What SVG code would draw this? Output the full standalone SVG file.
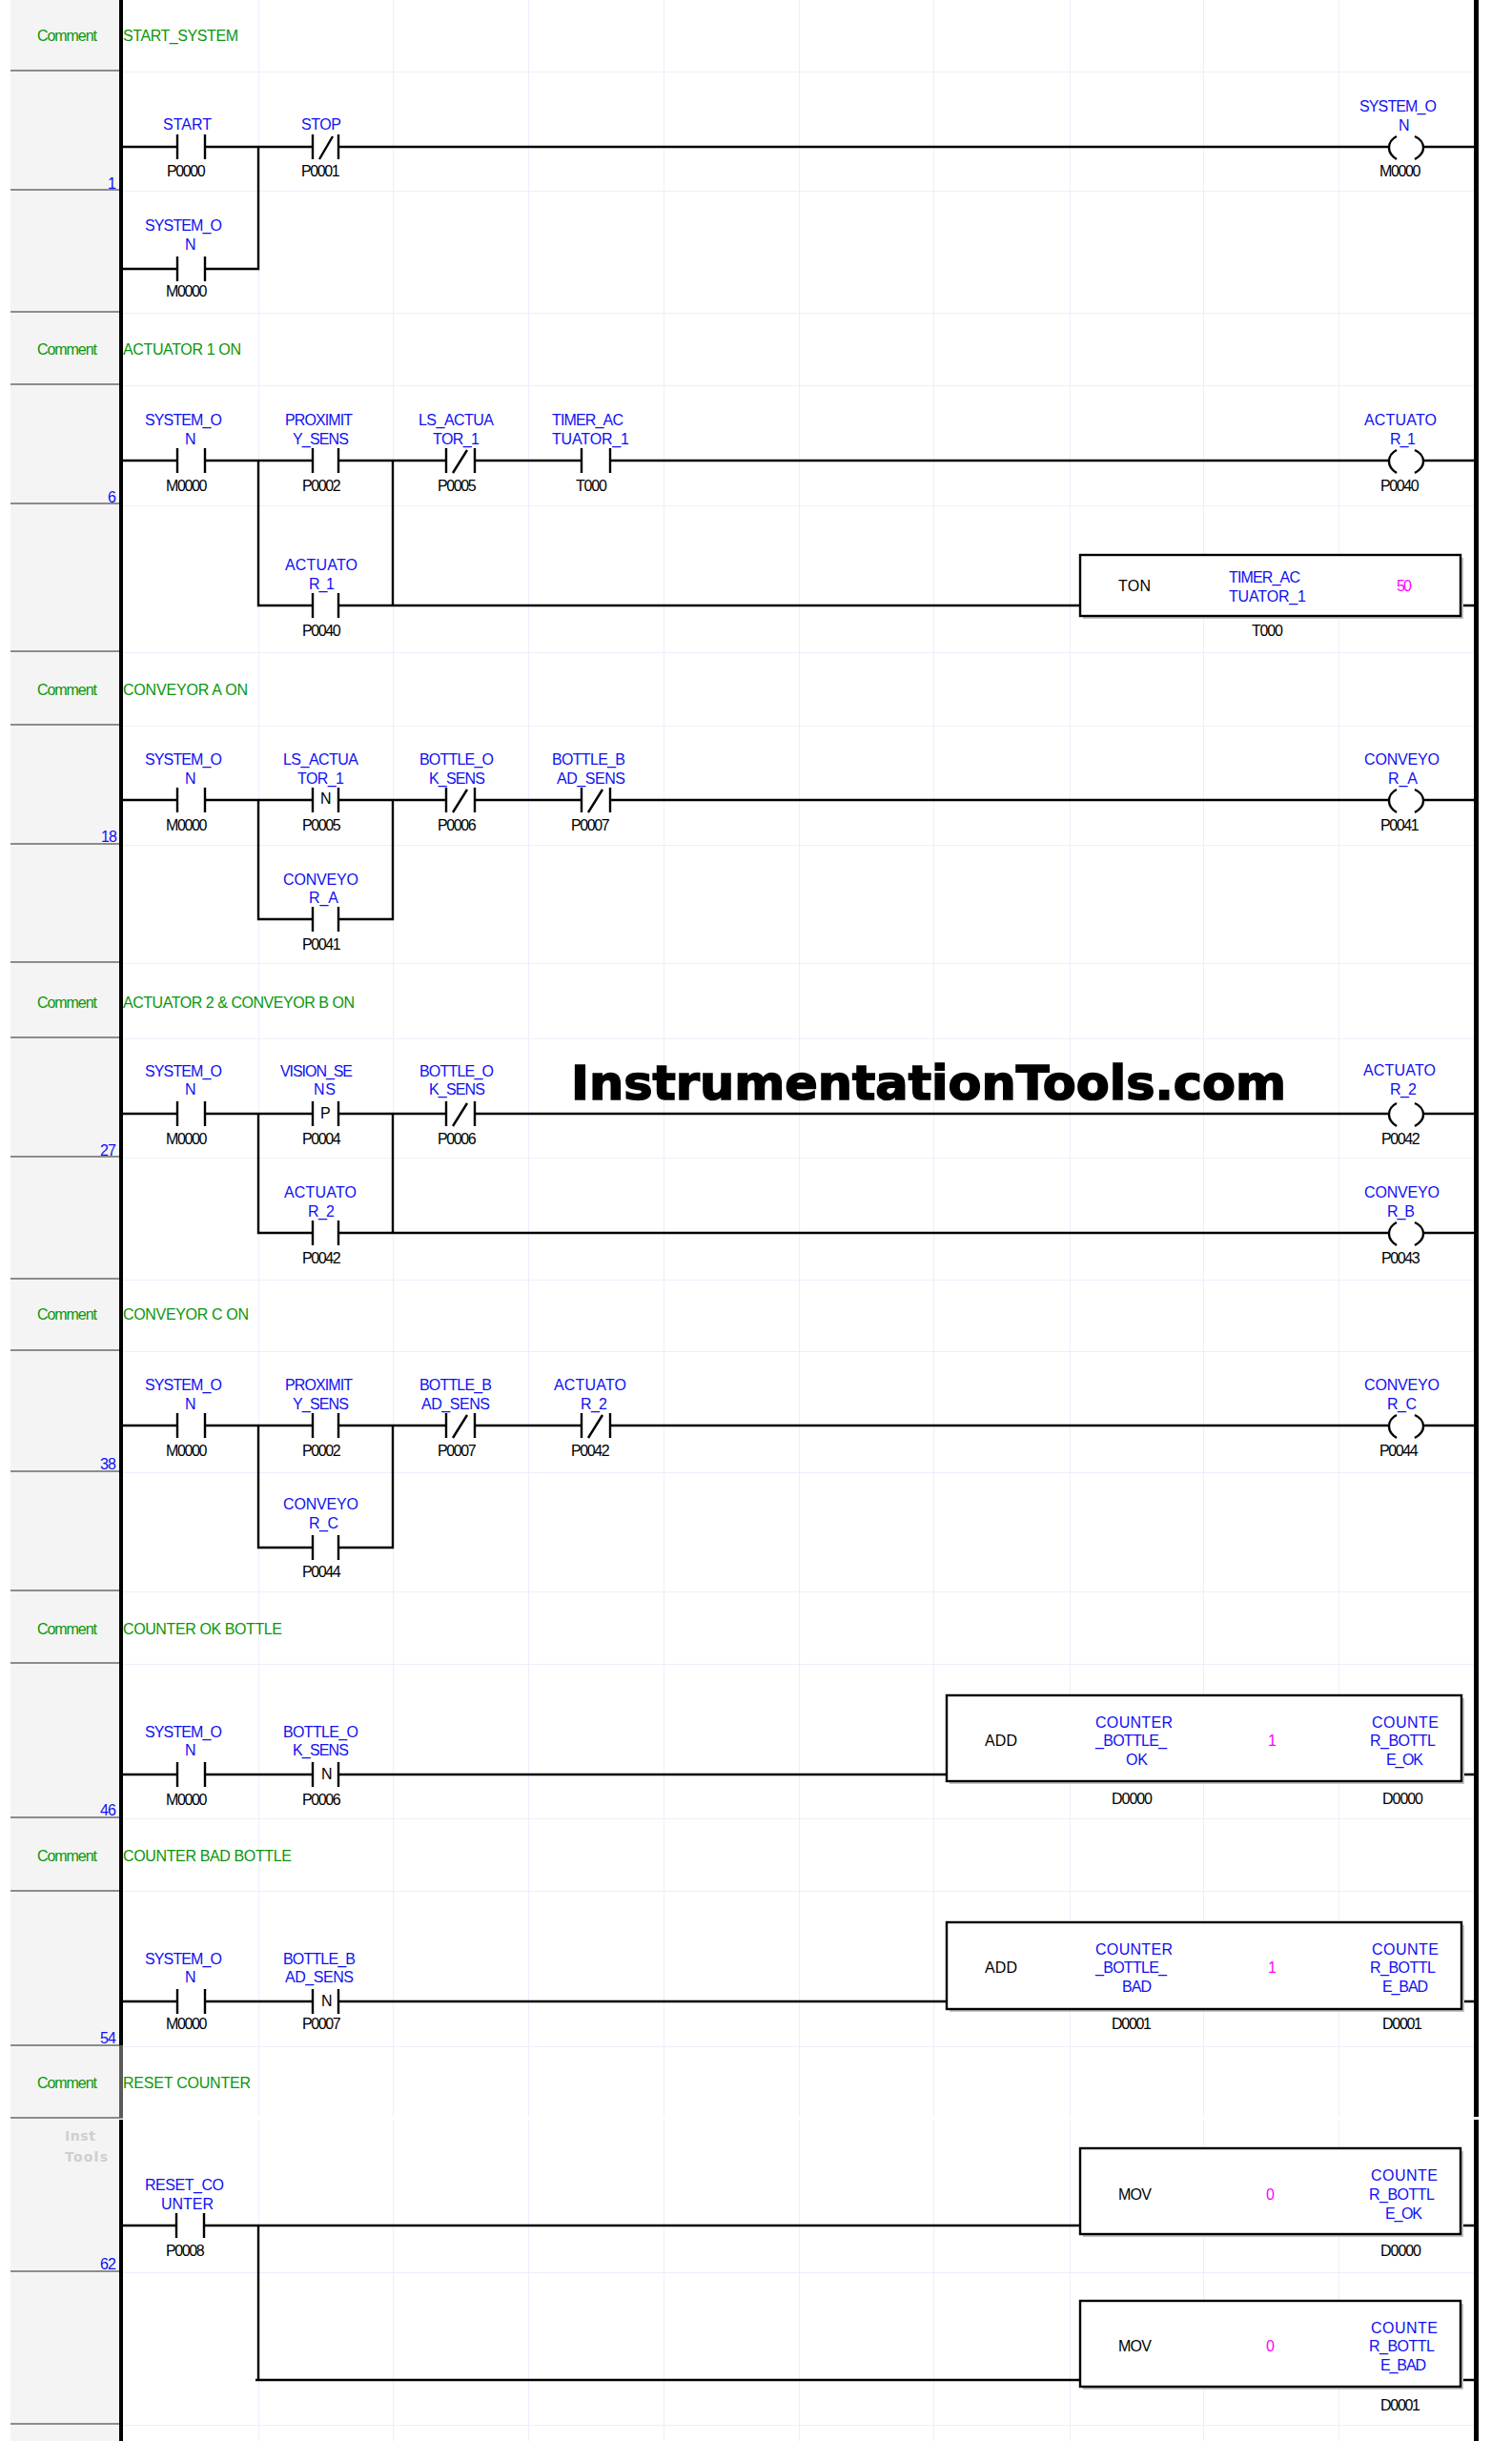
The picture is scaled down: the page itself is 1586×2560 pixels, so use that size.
<svg xmlns="http://www.w3.org/2000/svg" width="1586" height="2560" viewBox="0 0 1586 2560">
<style>
text{font-family:"Liberation Sans",Arial,sans-serif;font-size:16px;white-space:pre}
.b{fill:#1010f4}.k{fill:#000}.a{fill:#000;letter-spacing:-1.4px}.g{fill:#0a960a}.m{fill:#ff00ff}
.r{fill:#1010f4;letter-spacing:-1px}
.w{fill:none;stroke:#000;stroke-width:2.4}
.gl{stroke:#eeeefb;stroke-width:1;fill:none}
.sep{stroke:#8c8c8c;stroke-width:2;fill:none}
.box{fill:#fff;stroke:#000;stroke-width:2.4}
.sh{fill:#c4c4c4}
.wm{fill:#cfcfcf;font-family:"DejaVu Sans",sans-serif;font-weight:700;font-size:14px}
</style>
<defs>
<path id="no" class="w" d="M0 -13V13M29 -13V13"/>
<path id="n2" class="w" d="M0 -13V13M27 -13V13"/>
<path id="n3" class="w" d="M0 -13V13M30 -13V13"/>
<path id="c2" class="w" d="M0 -13V13M27 -13V13M7 13L21 -11"/>
<path id="c3" class="w" d="M0 -13V13M30 -13V13M7 13L22 -11"/>
<path id="coil" class="w" d="M8 -11Q0 -7 0 1Q0 8 8 13M27 -11Q36 -7 36 1Q36 8 27 13"/>
</defs>
<rect width="1586" height="2560" fill="#fff"/>
<rect x="11" y="0" width="114" height="2560" fill="#f4f4f4"/>
<g id="grid">
<path class="gl" d="M271.500 0V2560M412.500 0V2560M554.500 0V2560M696.500 0V2560M838.500 0V2560M979.500 0V2560M1122.500 0V2560M1262.500 0V2560M1404.500 0V2560"/>
<path class="gl" d="M129 75.500H1546M129 200.500H1546M129 328.500H1546M129 404.500H1546M129 530.500H1546M129 684.500H1546M129 761.500H1546M129 886.500H1546M129 1010.500H1546M129 1089.500H1546M129 1214.500H1546M129 1342.500H1546M129 1417.500H1546M129 1544.500H1546M129 1669.500H1546M129 1745.500H1546M129 1907.500H1546M129 1983.500H1546M129 2146.500H1546M129 2383.500H1546M129 2543.500H1546"/>
<rect x="129" y="2220" width="1417" height="3" fill="#fff"/>
</g>
<g id="panel">
<path class="sep" d="M11 74H125M11 199H125M11 327H125M11 403H125M11 528H125M11 683H125M11 760H125M11 885H125M11 1009H125M11 1088H125M11 1213H125M11 1341H125M11 1416H125M11 1543H125M11 1668H125M11 1744H125M11 1906H125M11 1983H125M11 2145H125M11 2221H129M11 2382H125M11 2542H125"/>
<text class="g" x="39" y="43" textLength="63">Comment</text>
<text class="g" x="39" y="372" textLength="63">Comment</text>
<text class="g" x="39" y="729" textLength="63">Comment</text>
<text class="g" x="39" y="1057" textLength="63">Comment</text>
<text class="g" x="39" y="1384" textLength="63">Comment</text>
<text class="g" x="39" y="1714" textLength="63">Comment</text>
<text class="g" x="39" y="1952" textLength="63">Comment</text>
<text class="g" x="39" y="2190" textLength="63">Comment</text>
<text class="r" x="113" y="198">1</text>
<text class="r" x="113" y="527">6</text>
<text class="r" x="106" y="883">18</text>
<text class="r" x="105" y="1212">27</text>
<text class="r" x="105" y="1541">38</text>
<text class="r" x="105" y="1904">46</text>
<text class="r" x="105" y="2143">54</text>
<text class="r" x="105" y="2380">62</text>
<text class="wm" x="68" y="2245" textLength="32">Inst</text>
<text class="wm" x="68" y="2267" textLength="45">Tools</text>
</g>
<g id="rails">
<rect x="125" y="0" width="4" height="2145" fill="#000"/>
<rect x="125" y="2145" width="4" height="76" fill="#5a5a5a"/>
<rect x="125" y="2223" width="4" height="337" fill="#000"/>
<rect x="1546" y="0" width="5" height="2220" fill="#000"/>
<rect x="1546" y="2223" width="5" height="337" fill="#000"/>
</g>
<g id="comments">
<text class="g" x="129" y="43" textLength="121">START_SYSTEM</text>
<text class="g" x="129" y="372" textLength="124">ACTUATOR 1 ON</text>
<text class="g" x="129" y="729" textLength="131">CONVEYOR A ON</text>
<text class="g" x="129" y="1057" textLength="243">ACTUATOR 2 &amp; CONVEYOR B ON</text>
<text class="g" x="129" y="1384" textLength="132">CONVEYOR C ON</text>
<text class="g" x="129" y="1714" textLength="167">COUNTER OK BOTTLE</text>
<text class="g" x="129" y="1952" textLength="177">COUNTER BAD BOTTLE</text>
<text class="g" x="129" y="2190" textLength="134">RESET COUNTER</text>
</g>
<g id="connectors" class="w">
<path d="M127 154H186M215 154H328M355 154H1457M1493 154H1548M127 282H186M215 282H271V154"/>
<path d="M127 483H186M215 483H328M355 483H468M498 483H610M640 483H1457M1493 483H1548M271 483V635H328M355 635H1133M412 483V635M1532 635H1548"/>
<path d="M127 839H186M215 839H328M355 839H468M498 839H610M640 839H1457M1493 839H1548M271 839V964H328M355 964H412V839"/>
<path d="M127 1168H186M215 1168H328M355 1168H468M498 1168H1457M1493 1168H1548M271 1168V1293H328M355 1293H1457M1493 1293H1548M412 1168V1293"/>
<path d="M127 1495H186M215 1495H328M355 1495H468M498 1495H610M640 1495H1457M1493 1495H1548M271 1495V1623H328M355 1623H412V1495"/>
<path d="M127 1861H186M215 1861H328M355 1861H993M1533 1861H1548"/>
<path d="M127 2099H186M215 2099H328M355 2099H993M1533 2099H1548"/>
<path d="M127 2334H185M214 2334H1133M1532 2334H1548M271 2334V2496M268 2496H1133M1532 2496H1548"/>
</g>
<g id="watermark"><text x="599" y="1153" textLength="750" lengthAdjust="spacingAndGlyphs" style="font-family:'DejaVu Sans',sans-serif;font-weight:700;font-size:50px;stroke:#000;stroke-width:1.6">InstrumentationTools.com</text></g>

<g id="r1-start"><use href="#no" x="186" y="154"/><text class="b" x="171" y="136" textLength="51">START</text><text class="a" x="175" y="185">P0000</text></g>
<g id="r1-stop"><use href="#c2" x="328" y="154"/><text class="b" x="316" y="136" textLength="42">STOP</text><text class="a" x="316" y="185">P0001</text></g>
<g id="r1-coil"><use href="#coil" x="1457" y="154"/><text class="b" x="1426" y="117" textLength="81">SYSTEM_O</text><text class="b" x="1467" y="137" textLength="11">N</text><text class="a" x="1447" y="185">M0000</text></g>
<g id="r1-hold"><use href="#no" x="186" y="282"/><text class="b" x="152" y="242" textLength="81">SYSTEM_O</text><text class="b" x="194" y="262" textLength="11">N</text><text class="a" x="174" y="311">M0000</text></g>

<g id="r6-sys"><use href="#no" x="186" y="483"/><text class="b" x="152" y="446" textLength="81">SYSTEM_O</text><text class="b" x="194" y="466" textLength="11">N</text><text class="a" x="174" y="515">M0000</text></g>
<g id="r6-prox"><use href="#n2" x="328" y="483"/><text class="b" x="299" y="446" textLength="71">PROXIMIT</text><text class="b" x="307" y="466" textLength="59">Y_SENS</text><text class="a" x="317" y="515">P0002</text></g>
<g id="r6-ls"><use href="#c3" x="468" y="483"/><text class="b" x="439" y="446" textLength="79">LS_ACTUA</text><text class="b" x="454" y="466" textLength="49">TOR_1</text><text class="a" x="459" y="515">P0005</text></g>
<g id="r6-timer"><use href="#n3" x="610" y="483"/><text class="b" x="579" y="446" textLength="75">TIMER_AC</text><text class="b" x="579" y="466" textLength="81">TUATOR_1</text><text class="k" x="604" y="515" textLength="33">T000</text></g>
<g id="r6-coil"><use href="#coil" x="1457" y="483"/><text class="b" x="1431" y="446" textLength="76">ACTUATO</text><text class="b" x="1458" y="466" textLength="27">R_1</text><text class="a" x="1448" y="515">P0040</text></g>
<g id="r6-act"><use href="#n2" x="328" y="635"/><text class="b" x="299" y="598" textLength="76">ACTUATO</text><text class="b" x="324" y="618" textLength="27">R_1</text><text class="a" x="317" y="667">P0040</text></g>
<g id="r6-ton"><rect class="sh" x="1136" y="585" width="399" height="64"/><rect x="1133" y="582" width="399" height="64" class="box"/><text class="k" x="1173" y="620" textLength="34">TON</text><text class="b" x="1289" y="611" textLength="75">TIMER_AC</text><text class="b" x="1289" y="631" textLength="81">TUATOR_1</text><text class="m" x="1465" y="620" textLength="16">50</text><text class="k" x="1313" y="667" textLength="33">T000</text></g>

<g id="r18-sys"><use href="#no" x="186" y="839"/><text class="b" x="152" y="802" textLength="81">SYSTEM_O</text><text class="b" x="194" y="822" textLength="11">N</text><text class="a" x="174" y="871">M0000</text></g>
<g id="r18-ls"><use href="#n2" x="328" y="839"/><text class="k" x="336" y="843">N</text><text class="b" x="297" y="802" textLength="79">LS_ACTUA</text><text class="b" x="312" y="822" textLength="49">TOR_1</text><text class="a" x="317" y="871">P0005</text></g>
<g id="r18-ok"><use href="#c3" x="468" y="839"/><text class="b" x="440" y="802" textLength="78">BOTTLE_O</text><text class="b" x="450" y="822" textLength="59">K_SENS</text><text class="a" x="459" y="871">P0006</text></g>
<g id="r18-bad"><use href="#c3" x="610" y="839"/><text class="b" x="579" y="802" textLength="77">BOTTLE_B</text><text class="b" x="584" y="822" textLength="72">AD_SENS</text><text class="a" x="599" y="871">P0007</text></g>
<g id="r18-coil"><use href="#coil" x="1457" y="839"/><text class="b" x="1431" y="802" textLength="79">CONVEYO</text><text class="b" x="1456" y="822" textLength="31">R_A</text><text class="a" x="1448" y="871">P0041</text></g>
<g id="r18-conv"><use href="#n2" x="328" y="964"/><text class="b" x="297" y="928" textLength="79">CONVEYO</text><text class="b" x="324" y="947" textLength="31">R_A</text><text class="a" x="317" y="996">P0041</text></g>

<g id="r27-sys"><use href="#no" x="186" y="1168"/><text class="b" x="152" y="1129" textLength="81">SYSTEM_O</text><text class="b" x="194" y="1148" textLength="11">N</text><text class="a" x="174" y="1200">M0000</text></g>
<g id="r27-vis"><use href="#n2" x="328" y="1168"/><text class="k" x="336" y="1173">P</text><text class="b" x="294" y="1129" textLength="76">VISION_SE</text><text class="b" x="329" y="1148" textLength="23">NS</text><text class="a" x="317" y="1200">P0004</text></g>
<g id="r27-ok"><use href="#c3" x="468" y="1168"/><text class="b" x="440" y="1129" textLength="78">BOTTLE_O</text><text class="b" x="450" y="1148" textLength="59">K_SENS</text><text class="a" x="459" y="1200">P0006</text></g>
<g id="r27-coil"><use href="#coil" x="1457" y="1168"/><text class="b" x="1430" y="1128" textLength="76">ACTUATO</text><text class="b" x="1458" y="1148" textLength="28">R_2</text><text class="a" x="1449" y="1200">P0042</text></g>
<g id="r27-act"><use href="#n2" x="328" y="1293"/><text class="b" x="298" y="1256" textLength="76">ACTUATO</text><text class="b" x="323" y="1276" textLength="28">R_2</text><text class="a" x="317" y="1325">P0042</text></g>
<g id="r27-coil2"><use href="#coil" x="1457" y="1293"/><text class="b" x="1431" y="1256" textLength="79">CONVEYO</text><text class="b" x="1455" y="1276" textLength="29">R_B</text><text class="a" x="1449" y="1325">P0043</text></g>

<g id="r38-sys"><use href="#no" x="186" y="1495"/><text class="b" x="152" y="1458" textLength="81">SYSTEM_O</text><text class="b" x="194" y="1478" textLength="11">N</text><text class="a" x="174" y="1527">M0000</text></g>
<g id="r38-prox"><use href="#n2" x="328" y="1495"/><text class="b" x="299" y="1458" textLength="71">PROXIMIT</text><text class="b" x="307" y="1478" textLength="59">Y_SENS</text><text class="a" x="317" y="1527">P0002</text></g>
<g id="r38-bad"><use href="#c3" x="468" y="1495"/><text class="b" x="440" y="1458" textLength="76">BOTTLE_B</text><text class="b" x="442" y="1478" textLength="72">AD_SENS</text><text class="a" x="459" y="1527">P0007</text></g>
<g id="r38-act"><use href="#c3" x="610" y="1495"/><text class="b" x="581" y="1458" textLength="76">ACTUATO</text><text class="b" x="609" y="1478" textLength="28">R_2</text><text class="a" x="599" y="1527">P0042</text></g>
<g id="r38-coil"><use href="#coil" x="1457" y="1495"/><text class="b" x="1431" y="1458" textLength="79">CONVEYO</text><text class="b" x="1455" y="1478" textLength="31">R_C</text><text class="a" x="1447" y="1527">P0044</text></g>
<g id="r38-conv"><use href="#n2" x="328" y="1623"/><text class="b" x="297" y="1583" textLength="79">CONVEYO</text><text class="b" x="324" y="1603" textLength="31">R_C</text><text class="a" x="317" y="1654">P0044</text></g>

<g id="r46-sys"><use href="#no" x="186" y="1861"/><text class="b" x="152" y="1822" textLength="81">SYSTEM_O</text><text class="b" x="194" y="1841" textLength="11">N</text><text class="a" x="174" y="1893">M0000</text></g>
<g id="r46-ok"><use href="#n2" x="328" y="1861"/><text class="k" x="337" y="1866">N</text><text class="b" x="297" y="1822" textLength="79">BOTTLE_O</text><text class="b" x="307" y="1841" textLength="59">K_SENS</text><text class="a" x="317" y="1893">P0006</text></g>
<g id="r46-add"><rect class="sh" x="996" y="1781" width="540" height="90"/><rect x="993" y="1778" width="540" height="90" class="box"/><text class="k" x="1033" y="1831" textLength="34">ADD</text><text class="b" x="1149" y="1812" textLength="81">COUNTER</text><text class="b" x="1149" y="1831" textLength="75">_BOTTLE_</text><text class="b" x="1181" y="1851" textLength="23">OK</text><text class="m" x="1330" y="1831">1</text><text class="b" x="1439" y="1812" textLength="70">COUNTE</text><text class="b" x="1437" y="1831" textLength="69">R_BOTTL</text><text class="b" x="1454" y="1851" textLength="39">E_OK</text><text class="k" x="1166" y="1892" textLength="43">D0000</text><text class="k" x="1450" y="1892" textLength="43">D0000</text></g>

<g id="r54-sys"><use href="#no" x="186" y="2099"/><text class="b" x="152" y="2060" textLength="81">SYSTEM_O</text><text class="b" x="194" y="2079" textLength="11">N</text><text class="a" x="174" y="2128">M0000</text></g>
<g id="r54-bad"><use href="#n2" x="328" y="2099"/><text class="k" x="337" y="2104">N</text><text class="b" x="297" y="2060" textLength="76">BOTTLE_B</text><text class="b" x="299" y="2079" textLength="72">AD_SENS</text><text class="a" x="317" y="2128">P0007</text></g>
<g id="r54-add"><rect class="sh" x="996" y="2019" width="540" height="91"/><rect x="993" y="2016" width="540" height="91" class="box"/><text class="k" x="1033" y="2069" textLength="34">ADD</text><text class="b" x="1149" y="2050" textLength="81">COUNTER</text><text class="b" x="1149" y="2069" textLength="75">_BOTTLE_</text><text class="b" x="1177" y="2089" textLength="31">BAD</text><text class="m" x="1330" y="2069">1</text><text class="b" x="1439" y="2050" textLength="70">COUNTE</text><text class="b" x="1437" y="2069" textLength="69">R_BOTTL</text><text class="b" x="1450" y="2089" textLength="48">E_BAD</text><text class="k" x="1166" y="2128" textLength="42">D0001</text><text class="k" x="1450" y="2128" textLength="42">D0001</text></g>

<g id="r62-reset"><use href="#no" x="185" y="2334"/><text class="b" x="152" y="2297" textLength="83">RESET_CO</text><text class="b" x="169" y="2317" textLength="55">UNTER</text><text class="a" x="174" y="2366">P0008</text></g>
<g id="r62-mov1"><rect class="sh" x="1136" y="2256" width="399" height="90"/><rect x="1133" y="2253" width="399" height="90" class="box"/><text class="k" x="1173" y="2307" textLength="35">MOV</text><text class="m" x="1328" y="2307">0</text><text class="b" x="1438" y="2287" textLength="70">COUNTE</text><text class="b" x="1436" y="2307" textLength="69">R_BOTTL</text><text class="b" x="1453" y="2327" textLength="39">E_OK</text><text class="k" x="1448" y="2366" textLength="43">D0000</text></g>
<g id="r62-mov2"><rect class="sh" x="1136" y="2416" width="399" height="90"/><rect x="1133" y="2413" width="399" height="90" class="box"/><text class="k" x="1173" y="2466" textLength="35">MOV</text><text class="m" x="1328" y="2466">0</text><text class="b" x="1438" y="2447" textLength="70">COUNTE</text><text class="b" x="1436" y="2466" textLength="69">R_BOTTL</text><text class="b" x="1448" y="2486" textLength="48">E_BAD</text><text class="k" x="1448" y="2528" textLength="42">D0001</text></g>
</svg>
